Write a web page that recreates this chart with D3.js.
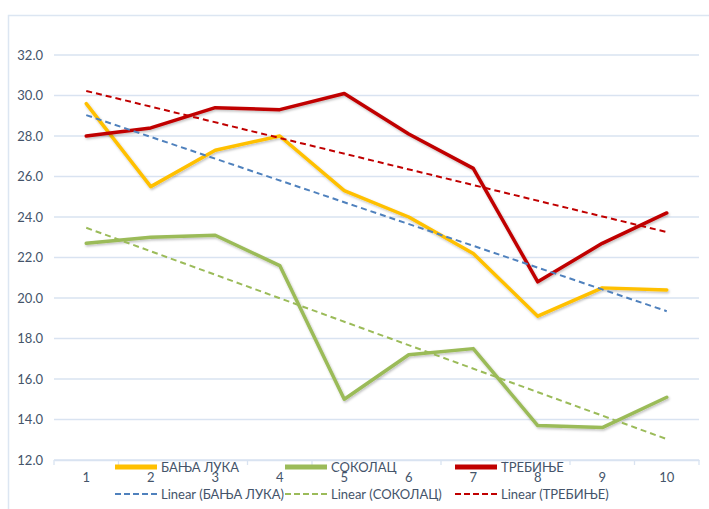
<!DOCTYPE html>
<html>
<head>
<meta charset="utf-8">
<script src="https://cdn.jsdelivr.net/npm/d3@7"></script>
<style>
  body { margin: 0; background: #fff; }
  svg { display: block; font-family: Lato, "Open Sans", sans-serif; }
</style>
</head>
<body>
<svg id="chart" width="709" height="509"></svg>
<script>
// data
const categories = [1, 2, 3, 4, 5, 6, 7, 8, 9, 10]
const banjaLuka = [29.6, 25.5, 27.3, 28.0, 25.3, 24.0, 22.2, 19.1, 20.5, 20.4]
const sokolac = [22.7, 23.0, 23.1, 21.6, 15.0, 17.2, 17.5, 13.7, 13.6, 15.1]
const trebinje = [28.0, 28.4, 29.4, 29.3, 30.1, 28.1, 26.4, 20.8, 22.7, 24.2]
const yTicks = [12, 14, 16, 18, 20, 22, 24, 26, 28, 30, 32]

const series = [
    { name: 'БАЊА ЛУКА', values: banjaLuka, color: '#FFC000', trendColor: '#4F81BD' },
    { name: 'СОКОЛАЦ', values: sokolac, color: '#9BBB59', trendColor: '#9BBB59' },
    { name: 'ТРЕБИЊЕ', values: trebinje, color: '#C00000', trendColor: '#C00000' }
]

const margin = { top: 55, left: 54, right: 10, bottom: 49 }
const width = 709
const height = 509

const svg = d3.select('#chart')

// outer chart frame
svg.append('rect')
    .attr('x', 8.5)
    .attr('y', 15.5)
    .attr('width', 720)
    .attr('height', 520)
    .attr('fill', 'none')
    .attr('stroke', '#DCE6F2')
    .attr('stroke-width', 1.5)

const x = d3.scaleBand()
    .domain(categories)
    .range([margin.left, width - margin.right])

const y = d3.scaleLinear()
    .domain([12, 32])
    .range([height - margin.bottom, margin.top])

// gridlines
svg.append('g')
    .selectAll('line')
    .data(yTicks)
    .join('line')
    .attr('x1', margin.left)
    .attr('x2', width - margin.right)
    .attr('y1', d => y(d))
    .attr('y2', d => y(d))
    .attr('stroke', '#D9E3F1')
    .attr('stroke-width', 1.3)

// y labels
svg.append('g')
    .selectAll('text')
    .data(yTicks)
    .join('text')
    .attr('x', 43)
    .attr('y', d => y(d))
    .attr('dy', '0.35em')
    .attr('text-anchor', 'end')
    .attr('fill', '#44546A')
    .style('font-size', '13px')
    .text(d => d.toFixed(1))

// x axis ticks between bands
const xAxis = svg.append('g')
    .attr('transform', `translate(0,${y(12)})`)
    .call(d3.axisBottom(x).tickSize(0).tickPadding(13))
xAxis.select('.domain').attr('stroke', '#D9E3F1').attr('stroke-width', 1.3)
xAxis.selectAll('text')
    .attr('fill', '#44546A')
    .style('font-size', '13px')
    .style('font-family', 'Lato, "Open Sans", sans-serif')
xAxis.selectAll('.sep')
    .data(categories.concat([null]))
    .join('line')
    .attr('class', 'sep')
    .attr('x1', (d, i) => margin.left + i * x.step())
    .attr('x2', (d, i) => margin.left + i * x.step())
    .attr('y1', 0)
    .attr('y2', 5)
    .attr('stroke', '#D9E3F1')
    .attr('stroke-width', 1.3)

const cx = d => x(d) + x.bandwidth() / 2

// soft shadow
const defs = svg.append('defs')
const shadow = defs.append('filter').attr('id', 'shadow')
    .attr('x', '-5%').attr('y', '-5%').attr('width', '110%').attr('height', '110%')
shadow.append('feDropShadow')
    .attr('dx', 1).attr('dy', 1.5).attr('stdDeviation', 1)
    .attr('flood-color', '#000').attr('flood-opacity', 0.25)

const line = d3.line()
    .x((d, i) => cx(categories[i]))
    .y(d => y(d))

// linear trend from least squares
function trend(values) {
    const n = values.length
    const mx = d3.mean(categories)
    const my = d3.mean(values)
    let sxy = 0, sxx = 0
    values.forEach((v, i) => {
        sxy += (categories[i] - mx) * (v - my)
        sxx += (categories[i] - mx) ** 2
    })
    const b = sxy / sxx
    const a = my - b * mx
    return [categories[0], categories[n - 1]].map(c => ({ c: c, v: a + b * c }))
}

// data lines
series.forEach(s => {
    svg.append('path')
        .datum(s.values)
        .attr('d', line)
        .attr('fill', 'none')
        .attr('stroke', s.color)
        .attr('stroke-width', 3.5)
        .attr('stroke-linejoin', 'round')
        .attr('stroke-linecap', 'round')
        .attr('filter', 'url(#shadow)')
})

// trend lines
series.forEach(s => {
    const t = trend(s.values)
    svg.append('line')
        .attr('x1', cx(t[0].c))
        .attr('x2', cx(t[1].c))
        .attr('y1', y(t[0].v))
        .attr('y2', y(t[1].v))
        .attr('stroke', s.trendColor)
        .attr('stroke-width', 2)
        .attr('stroke-dasharray', '6,4')
})

// legend
const legendX = [115, 285, 455]
series.forEach((s, i) => {
    const g = svg.append('g').attr('transform', `translate(${legendX[i]},0)`)
    g.append('rect')
        .attr('x', 0).attr('y', 464.5)
        .attr('width', 42).attr('height', 5)
        .attr('fill', s.color)
    g.append('text')
        .attr('x', 46).attr('y', 467)
        .attr('dy', '0.35em')
        .attr('fill', '#44546A')
        .style('font-size', '13px')
        .text(s.name)
    g.append('line')
        .attr('x1', 0).attr('x2', 42)
        .attr('y1', 494).attr('y2', 494)
        .attr('stroke', s.trendColor)
        .attr('stroke-width', 2)
        .attr('stroke-dasharray', '6,3')
    g.append('text')
        .attr('x', 46).attr('y', 494)
        .attr('dy', '0.35em')
        .attr('fill', '#44546A')
        .style('font-size', '13px')
        .text(`Linear (${s.name})`)
})
</script>
</body>
</html>
